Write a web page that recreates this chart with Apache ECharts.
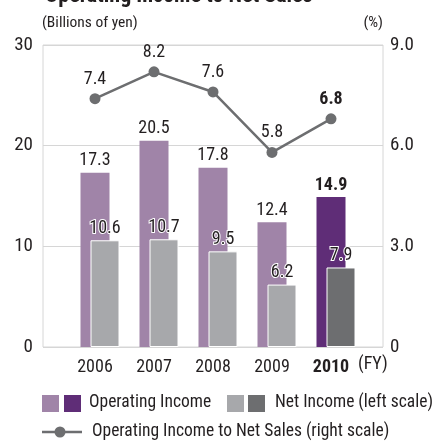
<!DOCTYPE html>
<html><head><meta charset="utf-8">
<script src="https://cdn.jsdelivr.net/npm/echarts@6/dist/echarts.min.js"></script>
<style>html,body{margin:0;padding:0;background:#fff}#c{width:433px;height:441px}</style>
</head><body><div id="c"></div>
<script>
const categories = ['2006', '2007', '2008', '2009', '2010'];
const operatingIncome = [17.3, 20.5, 17.8, 12.4, 14.9];
const netIncome = [10.6, 10.7, 9.5, 6.2, 7.9];
const operatingMargin = [7.4, 8.2, 7.6, 5.8, 6.8];
const leftTicks = ['0', '10', '20', '30'];
const rightTicks = ['0', '3.0', '6.0', '9.0'];

const FONT = '"Roboto Condensed","Liberation Sans Narrow",sans-serif';
const TXT = '#231f20';
const PURPLE_L = '#a084a8', PURPLE_D = '#5f2d77';
const GRAY_L = '#a7a8ab', GRAY_D = '#6d6e70';
const LINE = '#6d6e70';
const last = categories.length - 1;

const chart = echarts.init(document.getElementById('c'), null, {renderer: 'canvas'});

const opData = operatingIncome.map((v, i) => i === last ? {
  value: v, itemStyle: {color: PURPLE_D}, label: {fontWeight: 'bold'}
} : v);
const netData = netIncome.map((v, i) => i === last ? {
  value: v, itemStyle: {color: GRAY_D}
} : v);
const marginData = operatingMargin.map((v, i) => i === last ? {
  value: v, label: {fontWeight: 'bold'}
} : v);

chart.setOption({
  animation: false,
  textStyle: {fontFamily: FONT},
  grid: [
    {left: 43, right: 50, top: 45, bottom: 94, show: true, borderColor: '#d6d6d6', borderWidth: 1},
    {left: 65.5, right: 72.5, top: 45, bottom: 94}
  ],
  xAxis: [
    {type: 'category', gridIndex: 0, data: categories, show: false},
    {type: 'category', gridIndex: 1, data: categories,
      axisLine: {show: false}, axisTick: {show: false},
      axisLabel: {
        interval: 0, margin: 11, fontSize: 18, color: TXT, fontFamily: FONT,
        formatter: (v, i) => i === last ? '{b|' + v + '}' : v,
        rich: {b: {fontWeight: 'bold', fontSize: 18, color: TXT, fontFamily: FONT}}
      }}
  ],
  yAxis: [
    {type: 'value', gridIndex: 0, min: 0, max: 30, interval: 10,
      axisLine: {show: false}, axisTick: {show: false},
      splitLine: {lineStyle: {color: '#d6d6d6', width: 1}},
      axisLabel: {margin: 10, fontSize: 19, color: TXT, fontFamily: FONT,
        formatter: (v) => leftTicks[Math.round(v / 10)]}},
    {type: 'value', gridIndex: 0, min: 0, max: 9, interval: 3, position: 'right',
      axisLine: {show: false}, axisTick: {show: false}, splitLine: {show: false},
      axisLabel: {margin: 7, fontSize: 19, color: TXT, fontFamily: FONT,
        formatter: (v) => rightTicks[Math.round(v / 3)]}},
    {type: 'value', gridIndex: 1, min: 0, max: 30, show: false},
    {type: 'value', gridIndex: 1, min: 0, max: 9, show: false}
  ],
  series: [
    {type: 'bar', xAxisIndex: 1, yAxisIndex: 2, barWidth: 29, barGap: '-65.5%',
      data: categories.map(() => '-'), silent: true},
    {type: 'bar', xAxisIndex: 1, yAxisIndex: 2, barWidth: 29, barGap: '-65.5%',
      itemStyle: {color: PURPLE_L}, data: opData,
      label: {show: true, position: 'top', distance: 3, fontSize: 18, color: TXT, fontFamily: FONT}},
    {type: 'bar', xAxisIndex: 1, yAxisIndex: 2, barWidth: 29, barGap: '-65.5%',
      itemStyle: {color: GRAY_L, borderColor: '#fff', borderWidth: 1}, data: netData,
      label: {show: true, position: 'top', distance: 3, fontSize: 18, color: TXT, fontFamily: FONT,
        textBorderColor: '#fff', textBorderWidth: 2}},
    {type: 'line', xAxisIndex: 1, yAxisIndex: 3, data: marginData,
      lineStyle: {color: LINE, width: 2.5}, itemStyle: {color: LINE},
      symbol: 'circle', symbolSize: 11, z: 5,
      label: {show: true, position: 'top', distance: 5, fontSize: 18, color: TXT, fontFamily: FONT}}
  ],
  graphic: [
    {type: 'text', left: 45, top: -15, style: {text: 'Operating Income to Net Sales', font: 'bold 22px ' + FONT, fill: TXT}},
    {type: 'text', left: 42, top: 15, style: {text: '(Billions of yen)', font: '15.5px ' + FONT, fill: TXT}},
    {type: 'text', right: 50, top: 15, style: {text: '(%)', font: '15.5px ' + FONT, fill: TXT}},
    {type: 'text', left: 358, top: 355, style: {text: '(FY)', font: '18px ' + FONT, fill: TXT}},
    {type: 'rect', shape: {x: 42, y: 395, width: 17, height: 17}, style: {fill: PURPLE_L}},
    {type: 'rect', shape: {x: 64, y: 395, width: 17, height: 17}, style: {fill: PURPLE_D}},
    {type: 'text', left: 89, top: 394, style: {text: 'Operating Income', font: '17.5px ' + FONT, fill: TXT}},
    {type: 'rect', shape: {x: 227, y: 395, width: 17, height: 17}, style: {fill: GRAY_L}},
    {type: 'rect', shape: {x: 248, y: 395, width: 17, height: 17}, style: {fill: GRAY_D}},
    {type: 'text', left: 275, top: 394, style: {text: 'Net Income (left scale)', font: '17.5px ' + FONT, fill: TXT}},
    {type: 'line', shape: {x1: 42, y1: 432, x2: 82, y2: 432}, style: {stroke: LINE, lineWidth: 2.5}},
    {type: 'circle', shape: {cx: 60, cy: 432, r: 5.5}, style: {fill: LINE}},
    {type: 'text', left: 92, top: 423, style: {text: 'Operating Income to Net Sales (right scale)', font: '17.5px ' + FONT, fill: TXT}}
  ]
});
</script></body></html>
